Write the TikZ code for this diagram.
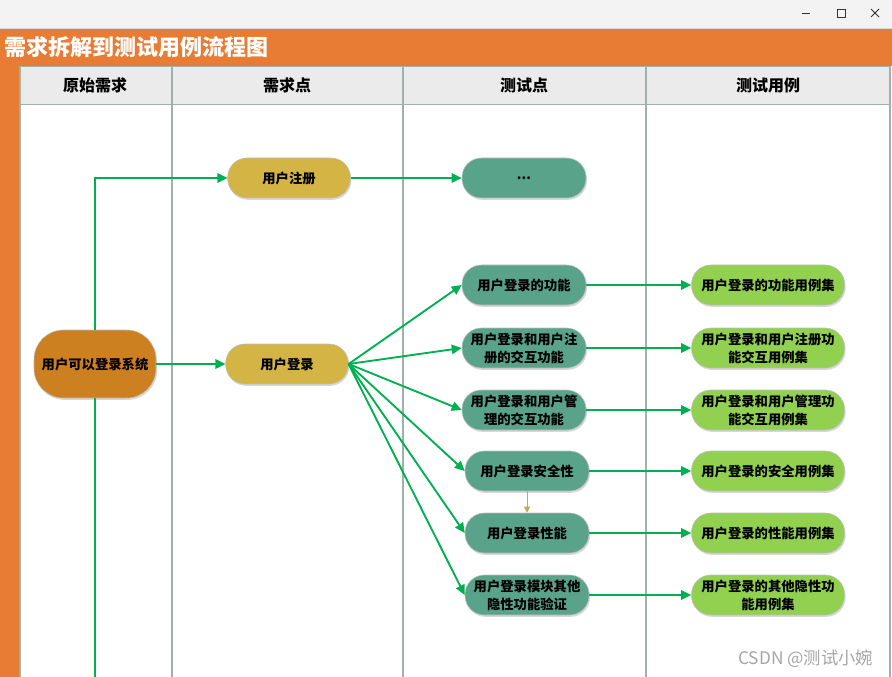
\documentclass[tikz,border=0pt]{standalone}
\usepackage{fontspec}
\setmainfont{Noto Sans CJK SC}
\usetikzlibrary{arrows.meta,positioning,shadows,calc}
\definecolor{flowGreen}{HTML}{00B050}
\definecolor{laneOrange}{HTML}{E97C35}
\definecolor{laneHead}{HTML}{EBEBEB}
\definecolor{laneLine}{HTML}{9FB1A8}
\definecolor{reqBrown}{HTML}{CC801F}
\definecolor{pointGold}{HTML}{D4B444}
\definecolor{testTeal}{HTML}{59A38A}
\definecolor{caseLime}{HTML}{92D050}
\definecolor{linkGold}{HTML}{C8A84A}
\definecolor{winBar}{HTML}{F3F3F3}

\begin{document}
\begin{tikzpicture}[x=0.75pt,y=-0.75pt,
    pill/.style   = {rectangle,rounded corners=14.5pt,draw=black!25,line width=0.4pt,
                     minimum height=30pt,inner sep=1pt,align=center,
                     font=\fontsize{10}{13.5}\selectfont\bfseries,
                     drop shadow={shadow xshift=0.8pt,shadow yshift=-1.4pt,opacity=0.3}},
    reqbox/.style = {pill,fill=reqBrown,minimum width=91.5pt,minimum height=51pt,rounded corners=22pt},
    pointbox/.style={pill,fill=pointGold,minimum width=92pt},
    testbox/.style= {pill,fill=testTeal,minimum width=93pt},
    casebox/.style= {pill,fill=caseLime,minimum width=114.75pt},
    lanehead/.style={font=\fontsize{12}{14}\selectfont\bfseries},
    flow/.style   = {-{Triangle[length=7.5pt,width=7pt]},flowGreen,line width=1.4pt},
    link/.style   = {-{Triangle[length=4.5pt,width=4.5pt]},linkGold,line width=0.7pt},
  ]
  \useasboundingbox (0,0) rectangle (892,677);

  % ── Barre de fenêtre ──────────────────────────────────────────────────────
  \fill[winBar] (0,0) rectangle (892,28);
  \draw[black!15,line width=0.5pt] (0,28) -- (892,28);
  \draw[black!80,line width=0.6pt] (802,13) -- (810,13);
  \draw[black!80,line width=0.6pt] (837,9) rectangle (845,17);
  \draw[black!80,line width=0.6pt] (871,9) -- (879,17) (871,17) -- (879,9);

  % ── Bandeau de titre ──────────────────────────────────────────────────────
  \fill[laneOrange] (0,29) rectangle (892,66);
  \fill[laneOrange] (0,66) rectangle (20,677);
  \node[anchor=west,text=white,font=\fontsize{16.5}{18}\selectfont\bfseries,inner sep=0pt]
       (title) at (4,47) {需求拆解到测试用例流程图};

  % ── Couloirs ──────────────────────────────────────────────────────────────
  \fill[laneHead] (20,67) rectangle (890,104);
  \fill[white] (20,104) rectangle (890,677);
  \draw[laneLine,line width=0.6pt] (20,66) -- (890,66);
  \draw[laneLine,line width=0.6pt] (20,104) -- (890,104);
  \foreach \x in {20,172,403,646,890}
    \draw[laneLine,line width=0.8pt] (\x,66) -- (\x,677);

  \node[lanehead] (hReq)   at (95,85)  {原始需求};
  \node[lanehead] (hPoint) at (287,85) {需求点};
  \node[lanehead] (hTest)  at (524,85) {测试点};
  \node[lanehead] (hCase)  at (768,85) {测试用例};

  % ── Besoin d'origine et points de besoin ─────────────────────────────────
  \node[reqbox]   (req)   at (95,364)  {用户可以登录系统};
  \node[pointbox] (reg)   at (289,178) {用户注册};
  \node[pointbox] (login) at (287,364) {用户登录};

  % ── Points de test ────────────────────────────────────────────────────────
  \node[testbox] (more) at (524,178) {\raisebox{-2.5pt}{...}};
  \node[testbox] (tpA)  at (524,285) {用户登录的功能};
  \node[testbox] (tpB)  at (524,348) {用户登录和用户注\\册的交互功能};
  \node[testbox] (tpC)  at (524,410) {用户登录和用户管\\理的交互功能};
  \node[testbox] (tpD)  at (527,471) {用户登录安全性};
  \node[testbox] (tpE)  at (527,533) {用户登录性能};
  \node[testbox] (tpF)  at (527,595) {用户登录模块其他\\隐性功能验证};

  % ── Cas de test ───────────────────────────────────────────────────────────
  \node[casebox] (tcA) at (768,285) {用户登录的功能用例集};
  \node[casebox] (tcB) at (768,348) {用户登录和用户注册功\\能交互用例集};
  \node[casebox] (tcC) at (768,410) {用户登录和用户管理功\\能交互用例集};
  \node[casebox] (tcD) at (768,471) {用户登录的安全用例集};
  \node[casebox] (tcE) at (768,533) {用户登录的性能用例集};
  \node[casebox] (tcF) at (768,595) {用户登录的其他隐性功\\能用例集};

  % ── Liaisons ──────────────────────────────────────────────────────────────
  \coordinate (reqOut) at (95,677);
  \draw[flow] (req.north) |- (reg.west);
  \draw[flow] (req.east) -- (login.west);
  \draw[flowGreen,line width=1.4pt] (req.south) -- (reqOut);
  \draw[flow] (reg.east) -- (more.west);
  \foreach \i in {A,B,C,D,E,F} {
    \draw[flow] (login.east) -- (tp\i.west);
    \draw[flow] (tp\i.east) -- (tc\i.west);
  }
  \draw[link] (tpD.south) -- (tpE.north);

  % ── Filigrane ─────────────────────────────────────────────────────────────
  \node[text=black!35,font=\fontsize{13}{15}\selectfont,anchor=east] (mark) at (878,659) {CSDN @测试小婉};

\end{tikzpicture}
\end{document}
